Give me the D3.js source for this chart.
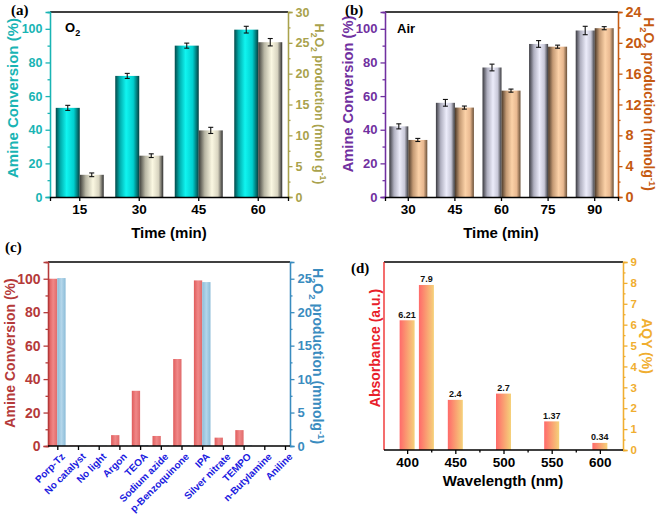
<!DOCTYPE html>
<html lang="en">
<head>
<meta charset="utf-8">
<title>Amine conversion and H2O2 production</title>
<script src="https://d3js.org/d3.v7.min.js"></script>
<style>
  body { margin: 0; background: #fff; }
  svg text { font-family: "Liberation Sans", Arial, sans-serif; font-weight: bold; }
  .plabel { font-family: "Liberation Serif", "Times New Roman", serif !important; }
</style>
</head>
<body>
<div id="chart"></div>
<script>
// (a) O2 atmosphere
var timesA = ["15", "30", "45", "60"];
var amineA = [53, 72, 90, 99.5];
var amineAErr = [1.5, 1.5, 1.5, 2];
var h2o2A = [3.6, 6.7, 10.8, 25.1];
var h2o2AErr = [0.3, 0.3, 0.5, 0.6];

// (b) air
var timesB = ["30", "45", "60", "75", "90"];
var amineB = [42, 56, 77, 91, 99];
var amineBErr = [1.5, 2, 2, 2, 2.5];
var h2o2B = [7.4, 11.6, 13.8, 19.5, 21.9];
var h2o2BErr = [0.2, 0.2, 0.2, 0.2, 0.2];

// (c) control experiments
var condC = ["Porp-Tz", "No catalyst", "No light", "Argon", "TEOA", "Sodium azide",
             "p-Benzoquinone", "IPA", "Silver nitrate", "TEMPO", "n-Butylamine", "Aniline"];
var amineC = [100, 0.2, 0.2, 6.5, 33, 6, 52, 99, 5, 9.5, 0, 0];
var h2o2C = [25.1, 0.05, 0.05, 0.05, 0.15, 0.1, 0.15, 24.5, 0.05, 0.1, 0.02, 0.02];

// (d) AQY
var waveD = [400, 420, 450, 500, 550, 600];
var aqyD = [6.21, 7.9, 2.4, 2.7, 1.37, 0.34];

var W = 661, H = 514;
var svg = d3.select("#chart").append("svg").attr("width", W).attr("height", H);
var defs = svg.append("defs");

function grad(id, stops) {
  var g = defs.append("linearGradient").attr("id", id)
    .attr("x1", "0%").attr("x2", "100%").attr("y1", "0%").attr("y2", "0%");
  stops.forEach(function(s) {
    g.append("stop").attr("offset", s[0]).attr("stop-color", s[1]);
  });
}
grad("gCyan", [["0%", "#064848"], ["18%", "#00a8a8"], ["45%", "#10f4f0"], ["75%", "#00d0d0"], ["100%", "#044040"]]);
grad("gBeige", [["0%", "#3c3c38"], ["25%", "#b8b6a4"], ["55%", "#fbf8e2"], ["80%", "#d8d4c0"], ["100%", "#303030"]]);
grad("gSilver", [["0%", "#3a3a40"], ["25%", "#b0b0c0"], ["55%", "#ececfa"], ["80%", "#c8c8d8"], ["100%", "#38383c"]]);
grad("gOrange", [["0%", "#4a3828"], ["25%", "#c49a74"], ["55%", "#fcd2a8"], ["80%", "#e8b890"], ["100%", "#6a5038"]]);
grad("gRed", [["0%", "#e05c5c"], ["50%", "#f08888"], ["100%", "#e06a6a"]]);
grad("gBlue", [["0%", "#8cbcd8"], ["50%", "#b4d6ea"], ["100%", "#8cbcd8"]]);
grad("gAqy", [["0%", "#ff6a6a"], ["100%", "#f5d27a"]]);

// y axis with minor ticks
function yAxis(scale, side, x, major, minor, color, fs, fmt) {
  var g = svg.append("g").attr("transform", "translate(" + x + ",0)");
  var mk = side === "left" ? d3.axisLeft : d3.axisRight;
  g.append("g").call(mk(scale).tickValues(minor).tickSize(2.5).tickFormat(""));
  g.append("g").call(mk(scale).tickValues(major).tickSize(4.5).tickPadding(3).tickFormat(fmt || d3.format("d")));
  g.selectAll("path, line").attr("stroke", color).attr("stroke-width", 1.3);
  g.selectAll("text").attr("fill", color).style("font-size", fs + "px");
  return g;
}

function xAxis(scale, y, vals, fs) {
  var g = svg.append("g").attr("transform", "translate(0," + y + ")");
  var ax = d3.axisBottom(scale).tickSize(4).tickPadding(3);
  if (vals) ax.tickValues(vals);
  g.call(ax);
  g.selectAll("path, line").attr("stroke", "#000").attr("stroke-width", 1.3);
  g.selectAll("text").attr("fill", "#000").style("font-size", fs + "px");
  return g;
}

function topLine(x0, x1, y) {
  svg.append("line").attr("x1", x0).attr("x2", x1).attr("y1", y).attr("y2", y)
    .attr("stroke", "#000").attr("stroke-width", 1.3);
}

function vLabel(x, y, rot, color, fs, parts) {
  var t = svg.append("text").attr("transform", "translate(" + x + "," + y + ") rotate(" + rot + ")")
    .attr("text-anchor", "middle").attr("fill", color).style("font-size", fs + "px");
  parts.forEach(function(p) {
    var ts = t.append("tspan").text(p[0]);
    if (p[1] === "sub") ts.attr("dy", fs * 0.3).style("font-size", (fs * 0.68) + "px");
    else if (p[1] === "sup") ts.attr("dy", -fs * 0.38).style("font-size", (fs * 0.68) + "px");
    else if (p[1] === "back") ts.attr("dy", -fs * 0.3);
    else if (p[1] === "back2") ts.attr("dy", fs * 0.38);
  });
  return t;
}

function errBars(xs, vals, errs, yS, dx) {
  var g = svg.append("g").attr("stroke", "#111").attr("stroke-width", 1.1);
  vals.forEach(function(v, i) {
    var cx = xs[i] + dx;
    var y1 = yS(v - errs[i]), y2 = yS(v + errs[i]);
    g.append("line").attr("x1", cx).attr("x2", cx).attr("y1", y1).attr("y2", y2);
    g.append("line").attr("x1", cx - 2.5).attr("x2", cx + 2.5).attr("y1", y1).attr("y2", y1);
    g.append("line").attr("x1", cx - 2.5).attr("x2", cx + 2.5).attr("y1", y2).attr("y2", y2);
  });
}

function pLabel(txt, x, y) {
  svg.append("text").attr("class", "plabel").attr("x", x).attr("y", y)
    .style("font-size", "15px").attr("fill", "#000").text(txt);
}

var h2o2Parts = function(unit) {
  return [["H"], ["2", "sub"], ["O", "back"], ["2", "sub"], [" production (" + unit, "back"], ["-1", "sup"], [")", "back2"]];
};

// ---------- panel (a) ----------
(function() {
  var x = d3.scaleBand().domain(timesA).range([50, 288]);
  var yL = d3.scaleLinear().domain([0, 110]).range([197, 12]);
  var yR = d3.scaleLinear().domain([0, 30]).range([197, 12]);
  var bw = 24;
  var cx = timesA.map(function(d) { return x(d) + x.bandwidth() / 2; });

  svg.append("g").selectAll("rect").data(amineA).enter().append("rect")
    .attr("x", function(d, i) { return cx[i] - bw; })
    .attr("y", function(d) { return yL(d); })
    .attr("width", bw).attr("height", function(d) { return yL(0) - yL(d); })
    .attr("fill", "url(#gCyan)");
  svg.append("g").selectAll("rect").data(h2o2A).enter().append("rect")
    .attr("x", function(d, i) { return cx[i]; })
    .attr("y", function(d) { return yR(d); })
    .attr("width", bw).attr("height", function(d) { return yR(0) - yR(d); })
    .attr("fill", "url(#gBeige)");
  errBars(cx, amineA, amineAErr, yL, -bw / 2);
  errBars(cx, h2o2A, h2o2AErr, yR, bw / 2);

  topLine(50, 288, 12);
  yAxis(yL, "left", 50, d3.range(0, 101, 20), d3.range(10, 111, 20), "#19b4b4", 12.5);
  yAxis(yR, "right", 288, d3.range(0, 31, 5), d3.range(2.5, 30, 5), "#a9a24c", 12.5);
  xAxis(x, 197, null, 13.5);

  vLabel(18, 98, -90, "#19b4b4", 15, [["Amine Conversion (%)"]]);
  vLabel(315, 104, 90, "#a9a24c", 12.5, h2o2Parts("mmol g"));
  svg.append("text").attr("x", 169).attr("y", 238).attr("text-anchor", "middle")
    .style("font-size", "15px").text("Time (min)");
  var o = svg.append("text").attr("x", 65).attr("y", 32).style("font-size", "13px").text("O");
  o.append("tspan").attr("dy", 4).style("font-size", "9px").text("2");
  pLabel("(a)", 11, 15);
})();

// ---------- panel (b) ----------
(function() {
  var x = d3.scaleBand().domain(timesB).range([385, 618]);
  var yL = d3.scaleLinear().domain([0, 110]).range([197, 12]);
  var yR = d3.scaleLinear().domain([0, 24]).range([197, 12]);
  var bw = 19;
  var cx = timesB.map(function(d) { return x(d) + x.bandwidth() / 2; });

  svg.append("g").selectAll("rect").data(amineB).enter().append("rect")
    .attr("x", function(d, i) { return cx[i] - bw; })
    .attr("y", function(d) { return yL(d); })
    .attr("width", bw).attr("height", function(d) { return yL(0) - yL(d); })
    .attr("fill", "url(#gSilver)");
  svg.append("g").selectAll("rect").data(h2o2B).enter().append("rect")
    .attr("x", function(d, i) { return cx[i]; })
    .attr("y", function(d) { return yR(d); })
    .attr("width", bw).attr("height", function(d) { return yR(0) - yR(d); })
    .attr("fill", "url(#gOrange)");
  errBars(cx, amineB, amineBErr, yL, -bw / 2);
  errBars(cx, h2o2B, h2o2BErr, yR, bw / 2);

  topLine(385, 618, 12);
  yAxis(yL, "left", 385, d3.range(0, 101, 20), d3.range(10, 111, 20), "#7030a0", 13);
  yAxis(yR, "right", 618, d3.range(0, 25, 4), d3.range(2, 24, 4), "#c55a11", 14.5);
  xAxis(x, 197, null, 13.5);

  vLabel(353, 94, -90, "#7030a0", 14.7, [["Amine Conversion (%)"]]);
  vLabel(644, 104, 90, "#c55a11", 13.8, h2o2Parts("mmolg"));
  svg.append("text").attr("x", 501).attr("y", 238).attr("text-anchor", "middle")
    .style("font-size", "15px").text("Time (min)");
  svg.append("text").attr("x", 397).attr("y", 33).style("font-size", "13px").text("Air");
  pLabel("(b)", 345, 15);
})();

// ---------- panel (c) ----------
(function() {
  var x = d3.scalePoint().domain(condC).range([57.3, 285]);
  var yL = d3.scaleLinear().domain([0, 110]).range([446, 262]);
  var yR = d3.scaleLinear().domain([0, 27.5]).range([446, 262]);
  var bw = 8.3;

  svg.append("g").selectAll("rect").data(amineC).enter().append("rect")
    .attr("x", function(d, i) { return x(condC[i]) - bw; })
    .attr("y", function(d) { return yL(d); })
    .attr("width", bw).attr("height", function(d) { return yL(0) - yL(d); })
    .attr("fill", "url(#gRed)");
  svg.append("g").selectAll("rect").data(h2o2C).enter().append("rect")
    .attr("x", function(d, i) { return x(condC[i]); })
    .attr("y", function(d) { return yR(d); })
    .attr("width", bw).attr("height", function(d) { return yR(0) - yR(d); })
    .attr("fill", "url(#gBlue)");

  topLine(48, 290, 262);
  yAxis(yL, "left", 48, d3.range(0, 101, 20), d3.range(10, 111, 20), "#b53a3a", 14);
  yAxis(yR, "right", 290, d3.range(0, 26, 5), d3.range(2.5, 27.5, 5), "#3a8cbf", 13);
  var gx = svg.append("g").attr("transform", "translate(0,446)");
  gx.call(d3.axisBottom(x).tickSize(4).tickFormat(""));
  gx.select(".domain").attr("d", "M48,0H290");
  gx.selectAll("path, line").attr("stroke", "#000").attr("stroke-width", 1.3);
  gx.selectAll(".cat").data(condC).enter().append("text")
    .attr("transform", function(d) { return "translate(" + (x(d) + 4) + ",7) rotate(-45)"; })
    .attr("text-anchor", "end").attr("dy", "0.6em").attr("fill", "#1a1ae0")
    .style("font-size", "10px").text(function(d) { return d; });

  vLabel(15, 353, -90, "#b53a3a", 14, [["Amine Conversion (%)"]]);
  vLabel(313, 356, 90, "#3a8cbf", 14, h2o2Parts("mmolg"));
  pLabel("(c)", 5, 252);
})();

// ---------- panel (d) ----------
(function() {
  var x = d3.scaleLinear().domain([376, 624]).range([384, 623]);
  var y = d3.scaleLinear().domain([0, 9]).range([450, 262]);
  var bw = 15;

  svg.append("g").selectAll("rect").data(aqyD).enter().append("rect")
    .attr("x", function(d, i) { return x(waveD[i]) - bw / 2; })
    .attr("y", function(d) { return y(d); })
    .attr("width", bw).attr("height", function(d) { return y(0) - y(d); })
    .attr("fill", "url(#gAqy)");
  svg.append("g").selectAll("text").data(aqyD).enter().append("text")
    .attr("x", function(d, i) { return x(waveD[i]); })
    .attr("y", function(d) { return y(d) - 2.5; })
    .attr("text-anchor", "middle").style("font-size", "9px").attr("fill", "#111")
    .text(function(d) { return d; });

  topLine(384, 623, 262);
  svg.append("line").attr("x1", 384).attr("x2", 384).attr("y1", 262).attr("y2", 450)
    .attr("stroke", "#ee2020").attr("stroke-width", 1.3);
  yAxis(y, "right", 623, d3.range(0, 10, 1), d3.range(0.5, 9, 1), "#f0ae30", 11.5);
  var gx = xAxis(x, 450, d3.range(400, 601, 50), 13.5);
  gx.select(".domain").attr("d", "M384,0H623");
  var gm = svg.append("g").attr("transform", "translate(0,450)");
  gm.call(d3.axisBottom(x).tickValues(d3.range(425, 576, 50)).tickSize(2.5).tickFormat(""));
  gm.select(".domain").remove();
  gm.selectAll("line").attr("stroke", "#000").attr("stroke-width", 1.3);

  vLabel(380, 348, -90, "#e8202a", 14, [["Absorbance (a.u.)"]]);
  vLabel(642, 346, 90, "#f0ae30", 14, [["AQY (%)"]]);
  svg.append("text").attr("x", 503).attr("y", 486).attr("text-anchor", "middle")
    .style("font-size", "15px").text("Wavelength (nm)");
  pLabel("(d)", 351, 273);
})();
</script>
</body>
</html>
